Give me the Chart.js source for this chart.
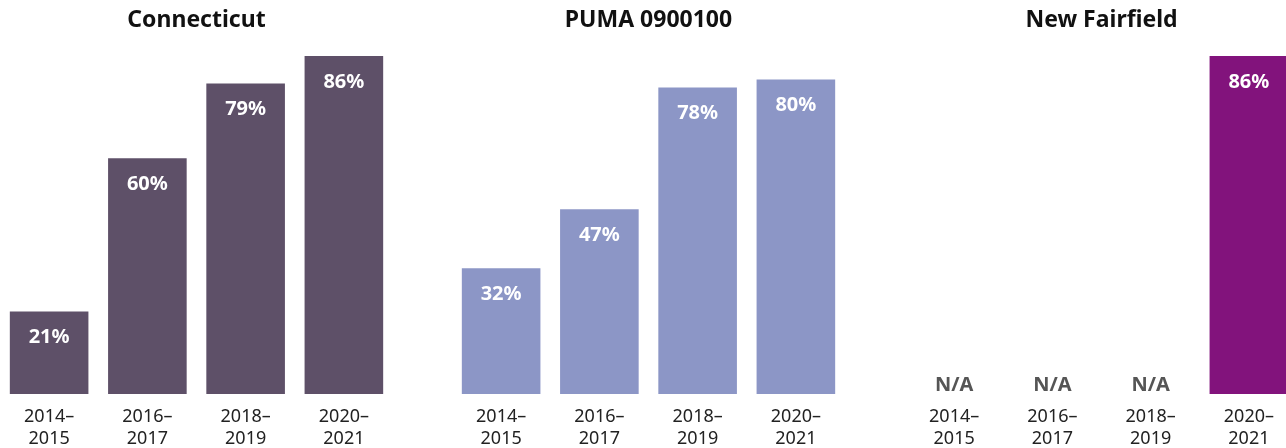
<!DOCTYPE html>
<html>
<head>
<meta charset="utf-8">
<script src="https://cdn.jsdelivr.net/npm/chart.js@4"></script>
<style>
  html, body { margin:0; padding:0; background:#fff; overflow:hidden; width:1286px; height:448px; }
  .panel { position:absolute; top:0; width:393px; height:448px; }
</style>
</head>
<body>
<div class="panel" style="left:0px"><canvas id="c1" width="393" height="448"></canvas></div>
<div class="panel" style="left:452px"><canvas id="c2" width="393" height="448"></canvas></div>
<div class="panel" style="left:905px"><canvas id="c3" width="393" height="448"></canvas></div>
<script>
const categories = [["2014–","2015"],["2016–","2017"],["2018–","2019"],["2020–","2021"]];
const panelTitles = ["Connecticut","PUMA 0900100","New Fairfield"];
const ctValues = [21, 60, 79, 86];
const pumaValues = [32, 47, 78, 80];
const nfValues = [null, null, null, 86];
const colors = ["#5e5068", "#8c96c6", "#82137c"];

const FONT = "'Noto Sans', sans-serif";

const labelPlugin = {
  id: 'barLabels',
  afterDatasetsDraw(chart, args, opts) {
    const ctx = chart.ctx;
    const meta = chart.getDatasetMeta(0);
    const data = chart.data.datasets[0].data;
    const yScale = chart.scales.y;
    ctx.save();
    ctx.textAlign = 'center';
    ctx.textBaseline = 'middle';
    meta.data.forEach((bar, i) => {
      const v = data[i];
      if (v === null || v === undefined) {
        ctx.fillStyle = '#555555';
        ctx.font = "bold 20px " + FONT;
        ctx.fillText('N/A', bar.x, yScale.getPixelForValue(0) - 9);
      } else {
        ctx.fillStyle = '#ffffff';
        ctx.font = "bold 20px " + FONT;
        ctx.fillText(v + '%', bar.x, bar.y + 26);
      }
    });
    // title
    ctx.fillStyle = '#111111';
    ctx.font = "bold 23px " + FONT;
    ctx.fillText(opts.title, chart.width / 2, 20);
    ctx.restore();
  }
};

function makeChart(id, values, color, title) {
  new Chart(document.getElementById(id), {
    type: 'bar',
    data: {
      labels: categories,
      datasets: [{ data: values, backgroundColor: color, barPercentage: 0.8, categoryPercentage: 1.0 }]
    },
    options: {
      responsive: false,
      animation: false,
      layout: { padding: { top: 1, left: 0, right: 0, bottom: 0 } },
      plugins: {
        legend: { display: false },
        tooltip: { enabled: false },
        title: { display: false },
        barLabels: { title: title }
      },
      scales: {
        x: {
          grid: { display: false },
          border: { display: false },
          ticks: { color: '#222222', font: { family: FONT, size: 18 }, padding: 4, maxRotation: 0, autoSkip: false },
          afterFit(scale) { scale.height = 54; }
        },
        y: { display: false, min: 0, max: 100 }
      }
    },
    plugins: [labelPlugin]
  });
}

makeChart('c1', ctValues, colors[0], panelTitles[0]);
makeChart('c2', pumaValues, colors[1], panelTitles[1]);
makeChart('c3', nfValues, colors[2], panelTitles[2]);
</script>
</body>
</html>
